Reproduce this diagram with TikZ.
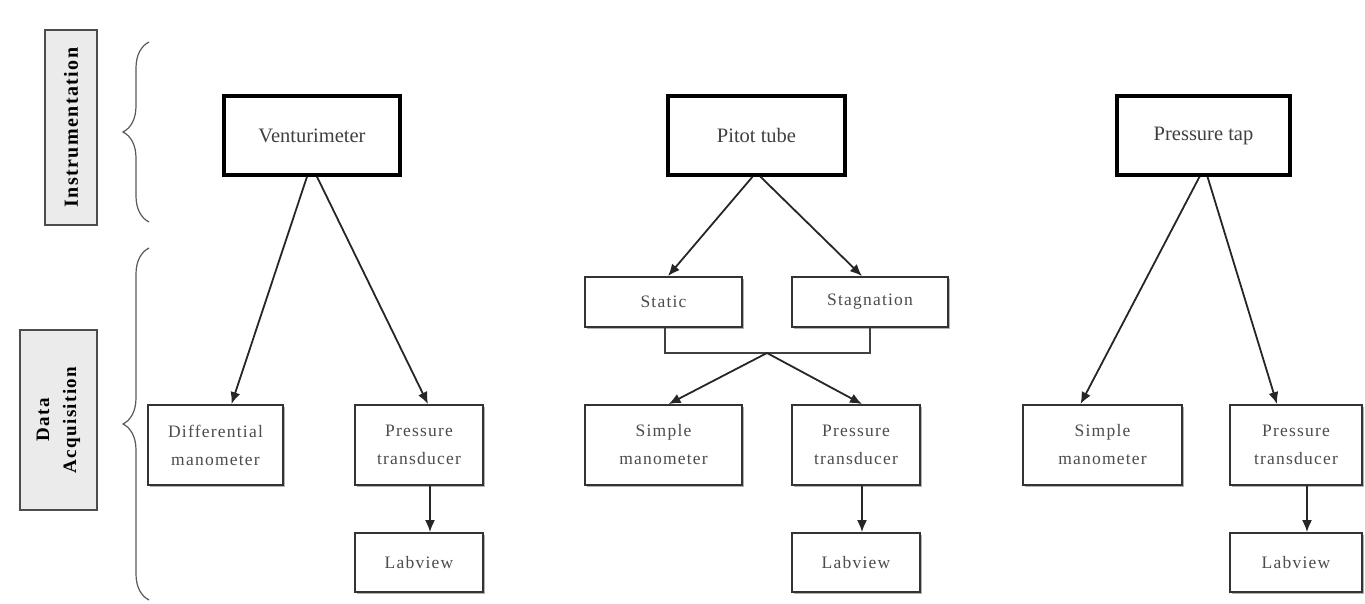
\documentclass[tikz,border=0pt]{standalone}
\usepackage{fontspec}
\setmainfont{Liberation Serif}
\newfontfamily\leaffont[LetterSpace=7]{Liberation Serif}
\newfontfamily\sidefont[LetterSpace=7]{Liberation Serif}
\usetikzlibrary{arrows.meta,decorations.pathreplacing,shadows}

\tikzset{
  topbox/.style={draw=black,line width=3.5pt,fill=white,minimum height=79pt,
    font=\fontsize{20.5}{24}\selectfont,text=black!75,
    drop shadow={shadow xshift=2pt,shadow yshift=-2pt,fill=black!35,opacity=1}},
  leafbox/.style={draw=black!80,line width=1.8pt,fill=white,minimum height=80pt,
    align=center,font=\leaffont\fontsize{17.5}{28}\selectfont,text=black!70,
    drop shadow={shadow xshift=2pt,shadow yshift=-2pt,fill=black!30,opacity=1}},
  sidebox/.style={draw=black!70,line width=2pt,fill=black!8},
  sidetext/.style={rotate=90,align=center,font=\sidefont\bfseries\fontsize{19}{27}\selectfont},
  link/.style={line width=1.8pt,draw=black!85,-{Latex[length=12pt,width=10pt]}},
  bracebar/.style={draw=black!65,line width=1.2pt,decorate,
    decoration={brace,amplitude=26pt}}
}

\begin{document}
\begin{tikzpicture}[x=1pt,y=-1pt]
  \useasboundingbox (0,0) rectangle (1365,604);

  % labels on the left
  \node[sidebox,minimum width=52pt,minimum height=195pt] (instr) at (71,127.5) {};
  \node[sidetext,font=\sidefont\bfseries\fontsize{20}{27}\selectfont] (instrtxt) at (instr.center) {Instrumentation};
  \node[sidebox,minimum width=77pt,minimum height=180pt] (daq) at (58.5,420) {};
  \node[sidetext] (daqtxt) at (daq.center) {Data\\Acquisition};

  % braces
  \coordinate (b1lo) at (149,222);
  \coordinate (b1hi) at (149,42);
  \coordinate (b2lo) at (149,600);
  \coordinate (b2hi) at (149,248);
  \draw[bracebar] (b1lo) -- (b1hi);
  \draw[bracebar] (b2lo) -- (b2hi);

  % instruments
  \node[topbox,minimum width=176pt] (venturi) at (312,135.5) {Venturimeter};
  \node[topbox,minimum width=177pt] (pitot) at (756.5,135.5) {Pitot tube};
  \node[topbox,minimum width=173pt] (tap) at (1203.5,135.5) {Pressure tap};

  % pitot branches
  \node[leafbox,minimum width=157pt,minimum height=50pt] (static) at (663.5,302) {Static};
  \node[leafbox,minimum width=156pt,minimum height=50pt] (stag) at (870,302) {Stagnation};
  \coordinate (jn) at (767,353);

  % acquisition
  \node[leafbox,minimum width=135pt] (diffman) at (215.5,445) {Differential\\manometer};
  \node[leafbox,minimum width=128pt] (ptV) at (419,445) {Pressure\\transducer};
  \node[leafbox,minimum width=128pt,minimum height=59pt] (labV) at (419,562.5) {Labview};
  \node[leafbox,minimum width=157pt] (simP) at (663.5,445) {Simple\\manometer};
  \node[leafbox,minimum width=128pt] (ptP) at (856,445) {Pressure\\transducer};
  \node[leafbox,minimum width=128pt,minimum height=59pt] (labP) at (856,562.5) {Labview};
  \node[leafbox,minimum width=159pt] (simT) at (1102.5,445) {Simple\\manometer};
  \node[leafbox,minimum width=132pt] (ptT) at (1296,445) {Pressure\\transducer};
  \node[leafbox,minimum width=132pt,minimum height=59pt] (labT) at (1296,562.5) {Labview};

  % connectors
  \draw[link] ([xshift=-5pt]venturi.south) -- ([xshift=16pt]diffman.north);
  \draw[link] ([xshift=5pt]venturi.south) -- ([xshift=9pt]ptV.north);
  \draw[link] ([xshift=-4pt]pitot.south) -- ([xshift=4.5pt]static.north);
  \draw[link] ([xshift=4pt]pitot.south) -- ([xshift=-8pt]stag.north);
  \draw[line width=1.6pt,draw=black!75] ([xshift=1.5pt]static.south) |- (jn) -| (stag.south);
  \draw[link] (jn) -- ([xshift=5pt]simP.north);
  \draw[link] (jn) -- ([xshift=6pt]ptP.north);
  \draw[link] ([xshift=-4pt]tap.south) -- ([xshift=-22pt]simT.north);
  \draw[link] ([xshift=4pt]tap.south) -- ([xshift=-19pt]ptT.north);
  \draw[link] ([xshift=11pt]ptV.south) -- ([xshift=11pt]labV.north);
  \draw[link] ([xshift=6pt]ptP.south) -- ([xshift=6pt]labP.north);
  \draw[link] ([xshift=11pt]ptT.south) -- ([xshift=11pt]labT.north);
\end{tikzpicture}
\end{document}
